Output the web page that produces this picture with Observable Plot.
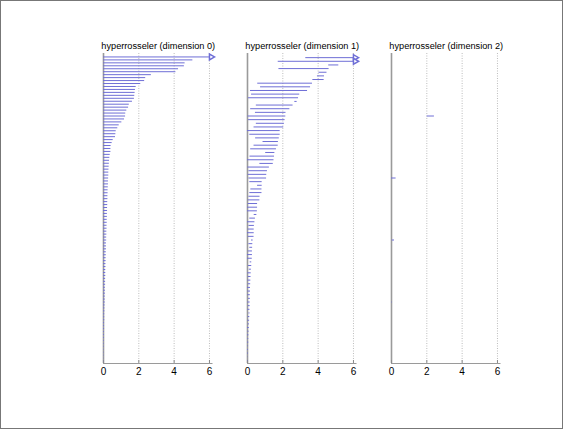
<!DOCTYPE html>
<html><head><meta charset="utf-8">
<script src="https://cdn.jsdelivr.net/npm/d3@7"></script>
<script src="https://cdn.jsdelivr.net/npm/@observablehq/plot@0.6"></script>
<style>
html,body{margin:0;padding:0;background:#fff;}
#fig{position:relative;width:563px;height:429px;box-sizing:border-box;border:1px solid #777;overflow:hidden;background:#fff;}
#fig > svg{position:absolute;top:0;}
</style></head><body><div id="fig"></div>
<script>
const titles = ["hyperrosseler (dimension 0)", "hyperrosseler (dimension 1)", "hyperrosseler (dimension 2)"];
const tickValues = [0, 2, 4, 6];
const infCap = 6;
const xMax = 6.2;

const dim0Birth = [0,0,0,0,0,0,0,0,0,0, 0,0,0,0,0,0,0,0,0,0, 0,0,0,0,0,0,0,0,0,0, 0,0,0,0,0,0,0,0,0,0,
  0,0,0,0,0,0,0,0,0,0, 0,0,0,0,0,0,0,0,0,0, 0,0,0,0,0,0,0,0,0,0, 0,0,0,0,0,0,0,0,0,0,
  0,0,0,0,0,0,0,0,0,0, 0,0,0,0,0,0,0,0,0,0, 0,0,0,0];
const dim0Death = [Infinity, 5.06, 4.62, 4.58, 4.25, 4.10, 2.71, 2.39, 2.33, 2.11, 1.85, 1.81, 1.79, 1.77, 1.75, 1.64, 1.46, 1.42,
  1.32, 1.26, 1.25, 1.19, 1.04, 0.89, 0.81, 0.72, 0.70, 0.68, 0.55, 0.49, 0.43, 0.42, 0.42, 0.38, 0.36, 0.34,
  0.33, 0.32, 0.31, 0.30, 0.30, 0.29, 0.28, 0.28, 0.27,
  0.26, 0.26, 0.25, 0.25, 0.24, 0.24, 0.23, 0.23, 0.22, 0.22,
  0.21, 0.21, 0.20, 0.20, 0.19, 0.19, 0.18, 0.18, 0.17, 0.17, 0.17, 0.16, 0.16, 0.15, 0.15,
  0.14, 0.14, 0.13, 0.13, 0.13, 0.12, 0.12, 0.12, 0.11, 0.11, 0.11, 0.10, 0.10, 0.10, 0.09,
  0.08, 0.08, 0.07, 0.07, 0.07, 0.06, 0.06, 0.06, 0.05, 0.05, 0.05, 0.04, 0.04, 0.04, 0.03, 0.03, 0.03, 0.02, 0.02];

const dim1Birth = [3.3, 1.74, 4.6, 1.78, 4.05, 3.96, 3.7, 0.58, 0.74, 0.17, 0.23, 0.06, 2.68, 0.5, 0.18, 0.45, 0.03, 0.06, 0.5, 0.37,
  0, 0.13, 0.46, 0.88, 0.37, 0.18, 1.03, 0.14, 0, 0.7, 0.02, 0.08, 0.04, 0.08, 0.13, 0.57, 0.19, 0.13, 0.08, 0.04,
  0.04, 0, 0, 0.38, 0.13, 0, 0.08, 0.04, 0, 0.04, 0.23, 0.08, 0.13, 0.04, 0, 0, 0.15, 0.06, 0.1, 0.02,
  0.04, 0.02, 0.04, 0, 0.02, 0.02, 0.06, 0.02, 0.04, 0.02, 0.08, 0.04, 0.02, 0.04, 0, 0.02, 0, 0.02, 0, 0.02,
  0, 0, 0.02, 0];
const dim1Death = [Infinity, Infinity, 5.17, 4.62, 4.5, 4.36, 4.34, 3.68, 3.57, 3.4, 2.96, 2.89, 2.81, 2.58, 2.4, 2.18, 2.17, 2.13, 2.09, 2.05,
  1.85, 1.85, 1.8, 1.75, 1.74, 1.64, 1.55, 1.53, 1.5, 1.46, 1.24, 1.13, 1.09, 1.08, 0.83, 0.83, 0.82, 0.82, 0.71, 0.7,
  0.57, 0.57, 0.56, 0.53, 0.45, 0.42, 0.39, 0.38, 0.38, 0.37, 0.32, 0.3, 0.29, 0.28, 0.28, 0.27, 0.24, 0.24, 0.22, 0.21,
  0.2, 0.19, 0.18, 0.17, 0.17, 0.16, 0.16, 0.15, 0.15, 0.14, 0.14, 0.13, 0.12, 0.11, 0.1, 0.09, 0.08, 0.07, 0.07, 0.06,
  0.05, 0.05, 0.04, 0.03];

const dim2Birth = [2.02, 0.0, 0.04, 0.0];
const dim2Death = [2.43, 0.26, 0.17, 0.03];

const barColor = "#6e6ed6";
const panelLefts = [82.3, 226, 369.7];
const fig = document.getElementById("fig");

function panel(title, births, deaths, left) {
  const n = deaths.length;
  const rows = deaths.map((d, i) => ({i: i + 1, b: births[i], d: Math.min(d, infCap), inf: !isFinite(d)}));
  const chart = Plot.plot({
    width: 145, height: 390,
    marginLeft: 20, marginRight: 15.5, marginTop: 52, marginBottom: 28,
    style: {fontFamily: "'Liberation Sans', Arial, sans-serif", fontSize: "10px", background: "transparent", overflow: "visible", color: "black"},
    x: {domain: [0, xMax]},
    y: {domain: [0, n + 1], reverse: true, axis: null},
    marks: [
      Plot.gridX(tickValues.slice(1), {stroke: "#bdbdbd", strokeOpacity: 1, strokeDasharray: "1,1.5"}),
      Plot.ruleX([0], {stroke: "#9a9a9a", strokeWidth: 1.6}),
      Plot.ruleY([n + 1], {stroke: "#9a9a9a"}),
      Plot.axisX({ticks: tickValues, tickFormat: d => String(d), tickSize: -3, tickPadding: 7, stroke: "#888", fill: "black", fontSize: 10}),
      Plot.ruleY(rows, {y: "i", x1: "b", x2: "d", stroke: barColor, dy: 0.5}),
      Plot.dot(rows.filter(r => r.inf), {x: "d", y: "i", symbol: "triangle", rotate: 90, r: 2.2, stroke: barColor, fill: "white", dx: 1.7, dy: 0.5}),
      Plot.text([title], {frameAnchor: "top", lineAnchor: "bottom", dy: -5, fontSize: 9.2, fill: "black"})
    ]
  });
  chart.style.left = left + "px";
  fig.appendChild(chart);
}

panel(titles[0], dim0Birth, dim0Death, panelLefts[0]);
panel(titles[1], dim1Birth, dim1Death, panelLefts[1]);
panel(titles[2], dim2Birth, dim2Death, panelLefts[2]);
</script>
</body></html>
